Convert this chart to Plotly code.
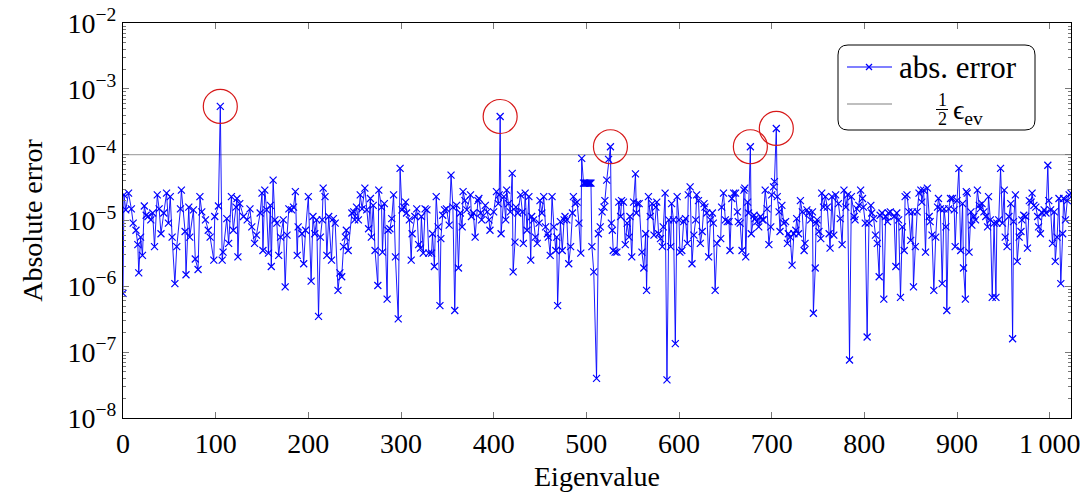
import plotly.graph_objects as go

# eigenvalue index and absolute error
eig_idx = [0, 1, 3, 6, 9, 11, 14, 16, 17, 19, 21, 23, 25, 27, 30, 32, 34, 37, 39, 41,
           44, 47, 49, 51, 53, 56, 58, 62, 63, 67, 68, 71, 72, 76, 78, 81, 83, 85, 89, 92,
           94, 98, 99, 103, 105, 107, 108, 112, 114, 117, 119, 122, 123, 124,
           126, 130, 134, 137, 139, 142, 144, 148, 150, 151, 153, 155, 157, 159, 160, 162,
           164, 166, 168, 170, 173, 175, 177, 179, 182, 184, 186, 188, 189, 193, 195, 197,
           200, 203, 205, 207, 209, 211, 213, 215, 216, 218, 220, 222, 225, 227, 229, 232,
           234, 236, 238, 240, 241, 243, 247, 249, 250,
           252, 254, 256, 258, 261, 263, 265, 267, 268, 270, 272, 275, 276, 279, 280, 282,
           285, 286, 288, 290, 292, 294, 297, 299, 301, 303, 305, 306, 309, 311, 312, 315,
           317, 319, 321, 322, 324, 326, 328, 330, 333, 334, 336, 338, 340, 342, 343, 345,
           347, 349, 352, 354, 356, 358, 360, 362, 364, 366, 367, 369, 371, 375, 376, 378,
           380, 383,
           384, 386, 387, 391, 393, 395, 396, 400, 403, 405, 406, 407, 408, 411, 413, 414,
           416, 418, 420, 421, 423, 424, 426, 429, 431, 432, 434, 436, 438, 440, 441, 443,
           445, 447, 449, 450, 452, 454, 456, 458, 459, 461, 463, 465, 467, 468, 469, 472,
           474, 476, 477, 479, 481, 483, 485, 486, 488, 490, 492, 494, 495, 497, 498, 499,
           500, 501, 502, 503, 504, 505, 506, 508, 511, 513, 515, 517, 519, 520, 522, 524,
           526, 527, 528, 529,
           531, 533, 535, 537, 538, 540, 542, 544, 546, 547, 549, 551, 553, 554, 555, 557,
           560, 562, 564, 565, 567, 569, 571, 573, 575, 576, 578, 580, 582, 583, 585, 587,
           589, 591, 592, 594, 596, 598, 600, 601, 603, 605, 607, 609, 610, 612, 614, 616,
           618, 619, 621, 623, 625, 627, 628, 630, 632, 634, 636, 637, 639, 641,
           645, 646, 648, 650, 652, 654, 655, 657, 659, 661, 663, 664, 666, 668, 670, 671,
           672, 674, 675, 677, 678, 681, 682, 684, 686, 688, 690, 691, 693, 695, 697, 699,
           700, 702, 703, 705, 706, 708, 709, 711, 713, 715, 717, 718, 720, 722, 724, 726,
           727, 729, 731, 733, 735, 736, 738, 740, 742, 744, 745, 747, 748, 749, 751, 753,
           754, 756, 758, 760, 762, 763, 765, 767, 769, 772,
           774, 776, 778, 780, 782, 784, 786, 789, 790, 792, 794, 796, 798, 799, 801, 803,
           805, 807, 808, 810, 812, 814, 816, 817, 819, 821, 823, 825, 826, 828, 832, 834,
           835, 837, 839, 841, 843, 844, 846, 848, 850, 852, 853, 855, 857, 859, 861, 862,
           864, 866, 868, 870, 871, 873, 875, 877, 879, 880, 882, 884, 886, 888, 889, 891,
           893, 895, 897, 898, 900, 902,
           904, 906, 907, 909, 910, 911, 913, 915, 916, 918, 920, 922, 924, 925, 927, 929,
           931, 933, 934, 936, 938, 940, 942, 943, 945, 947, 949, 951, 952, 954, 956, 958,
           960, 961, 963, 965, 967, 969, 970, 972, 974, 976, 978, 980, 981, 983, 985, 987,
           988, 990, 992, 994, 996, 998, 999, 1001, 1003, 1005, 1006, 1008, 1010, 1012, 1014,
           1015, 1017, 1019, 1021, 1023]

abs_err = [7.8e-7, 2.45e-5, 1.45e-5, 2.6e-5, 1.5e-5, 9.1e-6, 7.1e-6, 4.3e-6, 1.6e-6, 5.6e-6,
           2.95e-6, 1.66e-5, 1.2e-5, 1.15e-5, 1.02e-5, 1.3e-5, 4.0e-6, 2.45e-5, 1.5e-5, 6.3e-6,
           1.3e-5, 2.6e-5, 9.1e-6, 2.3e-5, 5.6e-6, 1.1e-6, 4.0e-6, 1.5e-5, 2.9e-5, 6.8e-6,
           1.5e-6, 1.6e-5, 5.6e-6, 1.45e-5, 2.6e-6, 1.8e-6, 2.3e-5, 1.35e-5, 1.02e-5, 7.1e-6,
           5.6e-6, 2.5e-6, 1.15e-5, 1.66e-5, 5.4e-4, 2.5e-6, 3.3e-6, 1.07e-5, 4.5e-6, 2.3e-5,
           7.1e-6, 1.6e-5, 2.16e-5, 2.8e-6,
           1.8e-5, 1.15e-5, 1.02e-5, 1.5e-5, 8.0e-6, 4.5e-6, 6.0e-6, 1.3e-5, 2.6e-5, 3.5e-6,
           2.9e-5, 1.45e-5, 3.2e-6, 1.7e-5, 2.0e-6, 4.1e-5, 1.02e-5, 9.1e-6, 2.95e-6, 5.6e-6,
           1.02e-5, 9.8e-7, 6.0e-6, 1.5e-5, 1.45e-5, 1.6e-5, 2.75e-5, 2.95e-6, 8.0e-6, 6.3e-6,
           2.2e-6, 7.1e-6, 2.3e-5, 1.2e-6, 1.15e-5, 6.3e-6, 1.02e-5, 3.5e-7, 5.6e-6, 1.02e-5,
           3.1e-5, 2.3e-5, 2.95e-6, 1.15e-5, 2.5e-6, 1.07e-5, 9.1e-6, 8.7e-7, 1.6e-6, 1.4e-6,
           4.0e-6, 5.6e-6, 7.1e-6, 3.5e-6, 1.3e-5, 1.35e-5, 1.02e-5,
           1.6e-5, 1.02e-5, 2.45e-5, 1.5e-5, 3.1e-5, 1.45e-5, 7.5e-6, 2.16e-5, 5.6e-6, 1.7e-5,
           3.5e-6, 1.03e-6, 2.9e-5, 1.6e-5, 3.3e-6, 1.8e-5, 6.4e-7, 7.1e-6, 7.5e-6, 1.07e-5,
           2.45e-5, 2.8e-6, 3.2e-7, 6.2e-5, 1.45e-5, 1.6e-5, 1.9e-5, 1.3e-5, 1.02e-5, 2.5e-6,
           6.3e-6, 1.15e-5, 1.5e-5, 4.3e-6, 3.8e-6, 1.15e-5, 3.2e-6, 1.5e-5, 1.45e-5, 3.2e-6,
           3.2e-6, 6.3e-6, 2.0e-6, 2.3e-5, 8.0e-6, 5.1e-7, 5.3e-6, 1.2e-5, 1.45e-5, 1.5e-5,
           8.5e-6, 4.9e-5, 1.6e-5, 4.3e-7, 1.7e-5, 1.9e-6, 1.3e-5, 8.0e-6, 2.75e-5, 2.0e-5,
           1.45e-5, 2.45e-5, 1.15e-5, 1.3e-5, 5.6e-6, 2.0e-5,
           2.16e-5, 1.3e-5, 1.02e-5, 1.7e-5, 1.35e-5, 1.02e-5, 7.1e-6, 1.35e-5, 2.75e-5, 1.8e-5,
           2.45e-5, 3.8e-4, 6.3e-6, 2.3e-5, 1.02e-5, 2.9e-5, 1.8e-5, 1.35e-5, 5.2e-5, 1.66e-6,
           4.7e-6, 1.6e-5, 1.3e-5, 2.45e-5, 1.35e-5, 4.5e-6, 2.6e-5, 7.1e-6, 2.3e-5, 2.5e-6,
           1.15e-5, 1.02e-5, 5.6e-6, 4.5e-6, 9.1e-6, 2.0e-5, 1.3e-5, 2.3e-5, 8.0e-6, 6.3e-6,
           5.6e-6, 2.95e-6, 2.3e-5, 8.0e-6, 3.5e-6, 5.6e-6, 5.1e-7, 9.6e-6, 3.5e-6, 1.02e-5,
           1.15e-5, 1.02e-5, 2.2e-6, 4.0e-6, 1.3e-5, 2.3e-5, 1.8e-5, 1.9e-5, 9.1e-6, 3.2e-6,
           8.8e-5, 3.7e-5, 3.7e-5, 3.7e-5, 3.7e-5, 3.7e-5, 3.7e-5, 3.7e-5, 3.7e-5, 3.7e-5,
           4.0e-6, 1.66e-6, 4.0e-8, 6.3e-6, 8.0e-6, 1.35e-5, 1.6e-5, 2.0e-5, 4.1e-5, 8.5e-5,
           1.32e-4, 9.1e-6, 7.1e-6, 3.5e-6,
           3.3e-6, 3.3e-6, 1.9e-5, 1.15e-5, 2.0e-5, 1.9e-5, 4.3e-6, 9.1e-6, 5.6e-6, 1.15e-5,
           2.8e-6, 1.9e-5, 5.1e-5, 1.3e-5, 1.8e-5, 1.8e-5, 3.3e-6, 1.9e-6, 6.3e-6, 8.7e-7,
           2.3e-5, 1.15e-5, 1.8e-5, 6.0e-6, 1.6e-5, 1.9e-5, 6.3e-6, 5.3e-6, 4.0e-6, 8.0e-6,
           2.6e-5, 3.8e-8, 1.02e-5, 4.0e-6, 1.8e-5, 1.02e-5, 1.35e-7, 2.3e-5, 1.02e-5, 3.3e-6,
           3.5e-6, 9.6e-6, 1.07e-5, 4.5e-6, 2.45e-5, 3.25e-5, 2.2e-6, 6.0e-6, 1.02e-5, 2.45e-5,
           2.0e-5, 4.5e-6, 6.8e-6, 1.8e-5, 1.6e-5, 1.3e-5, 2.8e-6, 1.02e-5, 1.3e-5, 9.1e-6,
           8.7e-7, 4.5e-6,
           5.3e-6, 1.6e-5, 2.6e-5, 1.02e-5, 9.6e-6, 9.6e-6, 3.5e-6, 2.16e-5, 2.6e-5, 2.6e-5,
           1.35e-5, 9.6e-6, 9.1e-6, 3.5e-6, 2.9e-5, 3.1e-5, 2.8e-6, 1.9e-5, 1.3e-5, 1.32e-4,
           6.3e-6, 1.2e-5, 1.07e-5, 9.6e-6, 8.0e-6, 1.15e-5, 1.02e-5, 1.02e-5, 2.9e-5, 1.5e-5,
           4.3e-6, 8.0e-6, 2.45e-5, 3.25e-5, 3.9e-5, 2.5e-4, 2.3e-5, 1.35e-5, 6.8e-6, 1.7e-5,
           9.1e-6, 9.6e-6, 4.5e-6, 6.3e-6, 5.6e-6, 2.1e-6, 6.3e-6, 7.1e-6, 1.07e-5, 6.3e-6,
           2.0e-5, 1.35e-5, 3.5e-6, 4.5e-6, 1.45e-5, 1.3e-5, 1.02e-5, 1.35e-5, 3.9e-7, 1.9e-6,
           9.1e-6, 1.02e-5, 6.8e-6, 5.3e-6, 2.6e-5, 1.6e-5, 2.3e-5, 1.6e-5, 6.3e-6, 3.8e-6,
           2.3e-5, 6.0e-6, 2.45e-5, 1.8e-5,
           1.07e-5, 4.3e-6, 2.9e-5, 1.6e-5, 2.45e-5, 7.6e-8, 2.3e-5, 1.15e-5, 1.02e-5, 1.5e-5,
           1.7e-5, 2.9e-5, 2.16e-5, 1.6e-5, 9.1e-6, 1.7e-7, 9.1e-6, 1.7e-5, 1.3e-5, 1.07e-5,
           6.0e-6, 4.5e-6, 1.4e-6, 1.2e-5, 1.3e-5, 6.4e-7, 1.15e-5, 9.6e-6, 1.3e-5, 1.35e-5,
           1.15e-5, 2.0e-6, 1.3e-5, 1.02e-5, 6.8e-7, 8.0e-6, 3.5e-6, 2.3e-5, 2.45e-5, 1.35e-5,
           5.0e-6, 1.35e-5, 9.8e-7, 4.0e-6, 1.35e-5, 2.6e-5, 2.9e-5, 1.9e-5, 2.9e-5, 3.3e-6,
           3.1e-5, 1.15e-5, 9.6e-6, 6.0e-6, 8.7e-7, 5.6e-6, 1.6e-5, 2.16e-5, 1.5e-5, 1.1e-6,
           1.5e-5, 8.0e-6, 4.3e-7, 1.5e-5, 2.16e-5, 2.16e-5, 1.45e-5, 4.0e-6, 2.0e-5, 6.2e-5,
           3.5e-6, 1.8e-5, 1.9e-6, 6.4e-7, 2.75e-5, 2.6e-5, 3.3e-6, 1.35e-5, 8.5e-6, 1.15e-5,
           1.02e-5, 2.9e-5, 1.7e-5, 1.5e-5, 1.8e-5, 1.35e-5, 1.15e-5, 8.0e-6, 2.3e-5, 1.02e-5,
           6.8e-7, 9.1e-6, 6.8e-7, 9.1e-6, 1.02e-5, 6.2e-5, 9.1e-6, 2.9e-5, 5.6e-6, 4.0e-6,
           1.15e-5, 1.8e-5, 1.6e-7, 9.6e-6, 2.45e-5, 2.4e-6, 5.6e-6, 6.8e-6, 1.02e-5, 1.2e-5,
           1.15e-5, 3.8e-6, 2.0e-5, 1.9e-5, 2.6e-5, 1.7e-5, 1.6e-5, 1.15e-5, 8.0e-6, 6.3e-6,
           1.3e-5, 1.45e-5, 1.3e-5, 6.9e-5, 2.0e-5, 1.45e-5, 4.5e-6, 1.35e-5, 2.4e-6, 5.6e-6,
           2.16e-5, 1.1e-6, 6.3e-6, 2.16e-5, 1.02e-5, 2.0e-5, 2.45e-5, 2.6e-5]

eps_half = 1e-4                          # 1/2 * eps_ev
circled = [105, 407, 526, 677, 705]      # outliers marked in red

x_ticks = list(range(0, 1001, 100))
x_ticktext = [str(v) if v < 1000 else '1\u2009000' for v in x_ticks]
y_ticks = [10.0 ** p for p in range(-8, -1)]
y_ticktext = ['10<sup>\u2212%d</sup>' % -p for p in range(-8, -1)]
y_minor = [k * 10.0 ** p for p in range(-8, -2) for k in range(2, 10)]

FONT = 'Liberation Serif, Times New Roman, serif'
BLUE = 'rgb(0,0,255)'
GRAY = 'rgb(170,170,170)'

circ_x = [i for i in circled]
circ_y = [abs_err[eig_idx.index(i)] for i in circled]

fig = go.Figure()
fig.add_trace(go.Scatter(x=[eig_idx[0], eig_idx[-1]], y=[eps_half, eps_half],
                         mode='lines', line=dict(color=GRAY, width=1.4),
                         showlegend=False, hoverinfo='skip'))
fig.add_trace(go.Scatter(x=eig_idx, y=abs_err, mode='lines+markers',
                         line=dict(color=BLUE, width=0.9),
                         marker=dict(symbol='x-thin', size=7,
                                     line=dict(color=BLUE, width=1.2)),
                         showlegend=False))
fig.add_trace(go.Scatter(x=circ_x, y=circ_y, mode='markers',
                         marker=dict(symbol='circle-open', size=34,
                                     line=dict(color='rgb(215,25,25)', width=1.2),
                                     color='rgb(215,25,25)'),
                         showlegend=False, hoverinfo='skip'))

# manual legend (rounded box like pgfplots)
L, R, T, B = 123, 1071, 23, 418
def px(x):
    return (x - L) / (R - L)
def py(y):
    return (B - y) / (B - T)

x0, x1, y0, y1 = px(838), px(1035), py(130), py(45)
rx, ry = px(848) - px(838), py(45) - py(55)
path = (f'M {x0+rx},{y1} L {x1-rx},{y1} Q {x1},{y1} {x1},{y1-ry} '
        f'L {x1},{y0+ry} Q {x1},{y0} {x1-rx},{y0} L {x0+rx},{y0} '
        f'Q {x0},{y0} {x0},{y0+ry} L {x0},{y1-ry} Q {x0},{y1} {x0+rx},{y1} Z')
shapes = [dict(type='path', path=path, xref='paper', yref='paper',
               line=dict(color='black', width=1), fillcolor='white', layer='above')]
shapes.append(dict(type='line', xref='paper', yref='paper', x0=px(847), x1=px(892),
                   y0=py(67), y1=py(67), line=dict(color=BLUE, width=1.2), layer='above'))
for d in (-1, 1):
    shapes.append(dict(type='line', xref='paper', yref='paper', x0=px(866), x1=px(872),
                       y0=py(67 - 3 * d), y1=py(67 + 3 * d),
                       line=dict(color=BLUE, width=1.3), layer='above'))
shapes.append(dict(type='line', xref='paper', yref='paper', x0=px(847), x1=px(892),
                   y0=py(104), y1=py(104), line=dict(color=GRAY, width=1.4), layer='above'))
shapes.append(dict(type='line', xref='paper', yref='paper', x0=px(936), x1=px(948),
                   y0=py(109.5), y1=py(109.5), line=dict(color='black', width=1), layer='above'))

annotations = [
    dict(text='abs. error', x=px(897), y=py(67), xref='paper', yref='paper',
         xanchor='left', yanchor='middle', showarrow=False,
         font=dict(family=FONT, size=31, color='black')),
    dict(text='1', x=px(942), y=py(100), xref='paper', yref='paper',
         xanchor='center', yanchor='middle', showarrow=False,
         font=dict(family=FONT, size=18, color='black')),
    dict(text='2', x=px(942), y=py(119.5), xref='paper', yref='paper',
         xanchor='center', yanchor='middle', showarrow=False,
         font=dict(family=FONT, size=18, color='black')),
    dict(text='\u03f5<sub>ev</sub>', x=px(951), y=py(112), xref='paper', yref='paper',
         xanchor='left', yanchor='middle', showarrow=False,
         font=dict(family=FONT, size=28, color='black')),
]

axis_common = dict(showline=True, linecolor='black', linewidth=1, mirror='allticks',
                   ticks='inside', tickcolor='rgb(120,120,120)', showgrid=False,
                   zeroline=False, automargin=False, ticklabeloverflow='allow',
                   tickfont=dict(family=FONT, size=28, color='black'))

fig.update_layout(
    width=1080, height=495,
    margin=dict(l=L, r=1080 - R, t=T, b=495 - B),
    plot_bgcolor='white', paper_bgcolor='white',
    showlegend=False,
    font=dict(family=FONT),
    shapes=shapes, annotations=annotations,
    xaxis=dict(range=[0, 1023], tickvals=x_ticks, ticktext=x_ticktext, ticklen=6,
               title=dict(text='Eigenvalue', font=dict(family=FONT, size=28, color='black'),
                          standoff=8),
               **axis_common),
    yaxis=dict(type='log', range=[-8, -2], tickvals=y_ticks, ticktext=y_ticktext,
               ticklen=6,
               minor=dict(tickvals=y_minor, ticks='inside', ticklen=3,
                          tickcolor='rgb(120,120,120)'),
               title=dict(text='Absolute error', font=dict(family=FONT, size=28, color='black'),
                          standoff=16),
               **axis_common),
)

# the page's default body margin would shift the figure by 8px
fig.write_html('out.html', config={'displayModeBar': False},
               post_script="document.body.style.margin='0';")
